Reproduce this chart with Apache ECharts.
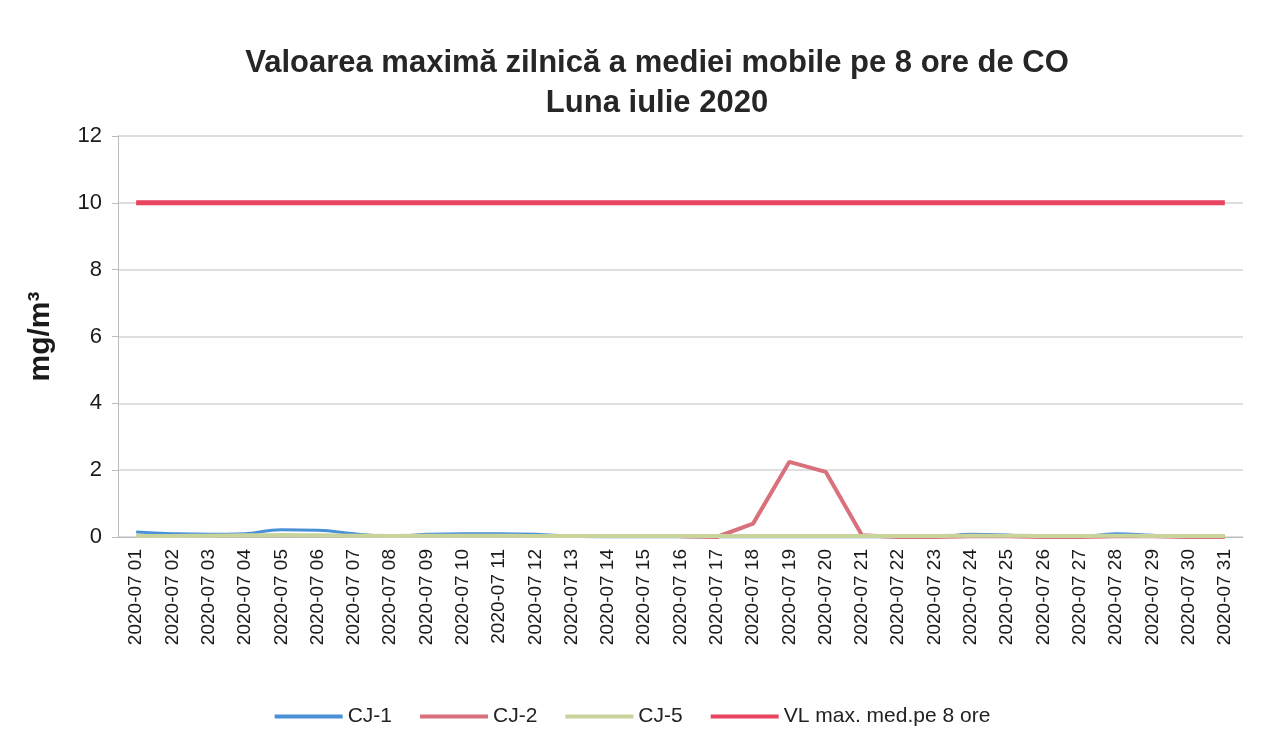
<!DOCTYPE html>
<html>
<head>
<meta charset="utf-8">
<script src="https://cdn.jsdelivr.net/npm/echarts@6/dist/echarts.min.js"></script>
<style>
html, body { margin: 0; padding: 0; background: #fff; }
#chart { width: 1265px; height: 752px; }
</style>
</head>
<body>
<div id="chart"></div>
<script>
var chart = echarts.init(document.getElementById('chart'));

var days = [];
for (let d = 1; d <= 31; d++) {
    days.push('2020-07 ' + (d < 10 ? '0' + d : d));
}
var cj1 = [0.15, 0.1, 0.08, 0.1, 0.22, 0.2, 0.1, 0.02, 0.08, 0.1, 0.1, 0.08, 0.02, 0.0, 0.0, 0.0,
    0.0, 0.0, 0.0, 0.0, 0.0, 0.0, 0.0, 0.08, 0.06, 0.0, 0.0, 0.1, 0.05, 0.0, 0.0];
var cj2 = [null, null, null, null, null, null, null, null, null, null, null, null, null, null, null, 0.02,
    0.0, 0.4, 2.25, 1.95, 0.05, 0.0, 0.0, 0.02, 0.02, 0.0, 0.0, 0.02, 0.02, 0.0, 0.0];
var cj5 = [0.04, 0.03, 0.04, 0.05, 0.06, 0.05, 0.04, 0.03, 0.04, 0.04, 0.04, 0.03, 0.03, 0.03, 0.03, 0.03,
    0.03, 0.03, 0.03, 0.03, 0.03, 0.03, 0.03, 0.04, 0.04, 0.03, 0.03, 0.04, 0.03, 0.03, 0.03];
var vl = [];
for (let i = 0; i < 31; i++) vl.push(10);

var font = 'Liberation Sans, Arial, sans-serif';

var option = {
    backgroundColor: '#fff',
    title: {
        left: 652,
        textAlign: 'center',
        top: 38,
        text: 'Valoarea maximă zilnică a mediei mobile pe 8 ore de CO\nLuna iulie 2020',
        textStyle: {
            fontFamily: font,
            fontSize: 31,
            fontWeight: 'bold',
            color: '#262626',
            lineHeight: 40
        }
    },
    legend: {
        bottom: 20,
        left: 'center',
        itemWidth: 68,
        itemHeight: 4,
        itemGap: 28,
        icon: 'rect',
        textStyle: { fontFamily: font, fontSize: 21, color: '#222' },
        data: ['CJ-1', 'CJ-2', 'CJ-5', 'VL max. med.pe 8 ore']
    },
    grid: {
        left: 118,
        right: 22,
        top: 136,
        bottom: 215
    },
    xAxis: {
        type: 'category',
        data: days,
        boundaryGap: true,
        axisLine: { lineStyle: { color: '#bbb' } },
        axisTick: { show: false },
        axisLabel: {
            rotate: 90,
            interval: 0,
            margin: 12,
            fontFamily: font,
            fontSize: 19,
            color: '#1a1a1a'
        }
    },
    yAxis: {
        type: 'value',
        min: 0,
        max: 12,
        interval: 2,
        name: 'mg/m³',
        nameLocation: 'middle',
        nameGap: 62,
        nameTextStyle: { fontFamily: font, fontSize: 30, fontWeight: 'bold', color: '#1a1a1a' },
        axisLine: { show: true, lineStyle: { color: '#bbb' } },
        axisTick: { show: true, length: 6, lineStyle: { color: '#bbb' } },
        axisLabel: { fontFamily: font, fontSize: 22, color: '#1a1a1a', margin: 16 },
        splitLine: { lineStyle: { color: '#d4d4d4', width: 1.5 } }
    },
    series: [
        {
            name: 'CJ-1',
            type: 'line',
            smooth: true,
            symbol: 'none',
            lineStyle: { color: '#4a90d9', width: 3 },
            itemStyle: { color: '#4a90d9' },
            data: cj1
        },
        {
            name: 'CJ-2',
            type: 'line',
            symbol: 'none',
            lineStyle: { color: '#d8717c', width: 4 },
            itemStyle: { color: '#d8717c' },
            data: cj2
        },
        {
            name: 'CJ-5',
            type: 'line',
            smooth: true,
            symbol: 'none',
            lineStyle: { color: '#c8d49c', width: 4 },
            itemStyle: { color: '#c8d49c' },
            data: cj5
        },
        {
            name: 'VL max. med.pe 8 ore',
            type: 'line',
            symbol: 'none',
            lineStyle: { color: '#e8435f', width: 5 },
            itemStyle: { color: '#e8435f' },
            data: vl
        }
    ]
};
chart.setOption(option);
</script>
</body>
</html>
